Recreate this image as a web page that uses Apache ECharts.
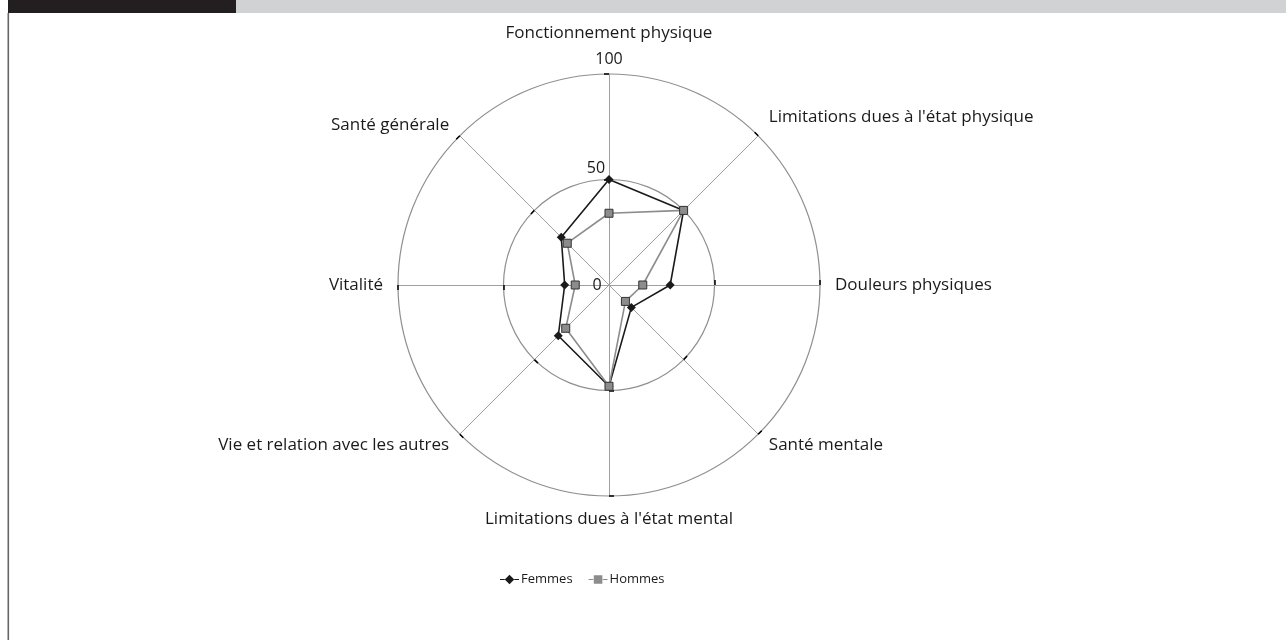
<!DOCTYPE html>
<html>
<head>
<meta charset="utf-8">
<script src="https://cdn.jsdelivr.net/npm/echarts@6/dist/echarts.min.js"></script>
<style>
html,body{margin:0;padding:0;background:#fff;}
#c{width:1286px;height:640px;}
</style>
</head>
<body>
<div id="c"></div>
<script>
// Categories in clockwise order starting from the top
const categories = [
  "Fonctionnement physique",
  "Limitations dues à l'état physique",
  "Douleurs physiques",
  "Santé mentale",
  "Limitations dues à l'état mental",
  "Vie et relation avec les autres",
  "Vitalité",
  "Santé générale"
];
const femmes = [50, 50, 29, 15, 48, 34, 21, 32];
const hommes = [34, 50, 16, 11, 48, 29, 16, 28];
const axisMax = 100;
const axisTicks = [0, 50, 100];

// ECharts lays radar indicators counter-clockwise; reorder so they read clockwise
function toCCW(arr) {
  return [arr[0]].concat(arr.slice(1).reverse());
}

const fontFamily = 'Open Sans';
const labelRich = {
  v0: { fontSize: 16, fontFamily: fontFamily, color: '#1a1a1a', padding: [0, 24, 0, 0] },
  v50: { fontSize: 16, fontFamily: fontFamily, color: '#1a1a1a', padding: [0, 26, 22, 0] },
  v100: { fontSize: 16, fontFamily: fontFamily, color: '#1a1a1a', padding: [0, 0, 30, 0] }
};

const indicators = toCCW(categories).map(function (name, i) {
  const ind = { name: name, max: axisMax, min: 0 };
  if (i === 0) {
    ind.axisLabel = {
      show: true,
      margin: 0,
      align: 'center',
      color: '#1a1a1a',
      fontSize: 16,
      fontFamily: fontFamily,
      formatter: function (v) {
        return axisTicks.indexOf(v) >= 0 ? '{v' + v + '|' + v + '}' : '';
      },
      rich: labelRich
    };
  }
  return ind;
});

const chart = echarts.init(document.getElementById('c'), null, { renderer: 'canvas' });

chart.setOption({
  animation: false,
  backgroundColor: '#ffffff',
  graphic: [
    { type: 'rect', shape: { x: 8, y: 0, width: 228, height: 13 }, style: { fill: '#231f20' } },
    { type: 'rect', shape: { x: 236, y: 0, width: 1050, height: 13 }, style: { fill: '#d1d2d4' } },
    { type: 'rect', shape: { x: 7.5, y: 13, width: 1.6, height: 627 }, style: { fill: '#666666' } }
  ],
  legend: {
    bottom: 49,
    left: 495,
    itemGap: 16,
    itemWidth: 19,
    itemHeight: 10,
    textStyle: { fontFamily: fontFamily, fontSize: 13, color: '#1a1a1a', padding: [0, 0, 0, -3] },
    data: [
      { name: 'Femmes', icon: 'path://M0,4.4 L5,4.4 L5,5.6 L0,5.6 Z M5,5 L10,0 L15,5 L10,10 Z M15,4.4 L20,4.4 L20,5.6 L15,5.6 Z', itemStyle: { color: '#1a1a1a', borderWidth: 0 } },
      { name: 'Hommes', icon: 'path://M0,4.4 L5,4.4 L5,5.6 L0,5.6 Z M5.5,0.5 L14.5,0.5 L14.5,9.5 L5.5,9.5 Z M15,4.4 L20,4.4 L20,5.6 L15,5.6 Z', itemStyle: { color: '#8c8c8c', borderWidth: 0 } }
    ]
  },
  radar: {
    center: [609, 285],
    radius: 211,
    shape: 'circle',
    splitNumber: 2,
    startAngle: 90,
    indicator: indicators,
    nameGap: 15,
    axisName: {
      color: '#1a1a1a',
      fontSize: 17,
      fontFamily: fontFamily,
      formatter: function (name) {
        if (name === categories[0]) return '{top|' + name + '}';
        if (name === categories[1]) return '{ne|' + name + '}';
        return name;
      },
      rich: {
        top: { fontSize: 17, fontFamily: fontFamily, color: '#1a1a1a', padding: [0, 0, 17, 0] },
        ne: { fontSize: 17, fontFamily: fontFamily, color: '#1a1a1a', padding: [0, 0, 16, 0] }
      }
    },
    axisLine: { show: true, lineStyle: { color: '#a0a0a0', width: 1 } },
    axisTick: { show: true, length: 5, customValues: [50, 100], lineStyle: { color: '#000', width: 1.5 } },
    splitLine: { show: true, lineStyle: { color: '#8f8f8f', width: 1.2 } },
    splitArea: { show: false }
  },
  series: [
    {
      name: 'Femmes',
      type: 'radar',
      symbol: 'diamond',
      symbolSize: 9,
      lineStyle: { color: '#1a1a1a', width: 1.6 },
      itemStyle: { color: '#1a1a1a' },
      data: [{ value: toCCW(femmes), name: 'Femmes' }],
      z: 3
    },
    {
      name: 'Hommes',
      type: 'radar',
      symbol: 'rect',
      symbolSize: 8,
      lineStyle: { color: '#8c8c8c', width: 1.6 },
      itemStyle: { color: '#8c8c8c', borderColor: '#333', borderWidth: 1 },
      data: [{ value: toCCW(hommes), name: 'Hommes' }],
      z: 4
    }
  ]
});
</script>
</body>
</html>
